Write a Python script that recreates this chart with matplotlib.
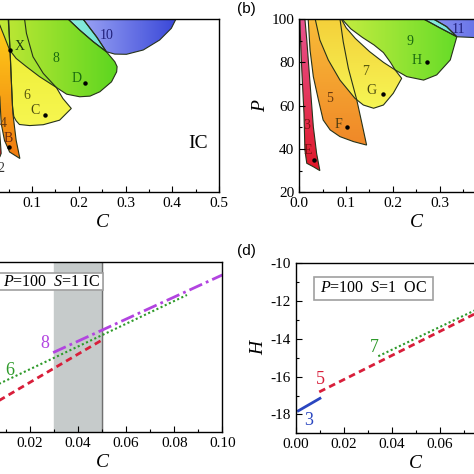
import numpy as np
import matplotlib
matplotlib.use('Agg')
import matplotlib.pyplot as plt
from matplotlib.patches import Polygon, Rectangle
from matplotlib.colors import LinearSegmentedColormap
from matplotlib.ticker import MultipleLocator, FormatStrFormatter

plt.rcParams['font.family'] = 'Liberation Serif'
plt.rcParams['mathtext.fontset'] = 'custom'
plt.rcParams['mathtext.rm'] = 'Liberation Serif'
plt.rcParams['mathtext.it'] = 'Liberation Serif:italic'
plt.rcParams['axes.unicode_minus'] = False

# ---- panel (a): IC stability regions, outline points (C, P)
a2_c = [0.000, 0.012, 0.022, 0.030, 0.034, 0.031, 0.020, 0.008]
a2_p = [100, 100, 75, 50, 38, 36.3, 45, 70]
a4_c = [0.006, 0.012, 0.018, 0.024, 0.031, 0.034, 0.041, 0.052, 0.074, 0.066, 0.059, 0.056, 0.053, 0.049]
a4_p = [100, 90, 80, 72, 64, 51.8, 44, 38.6, 35.6, 44, 56.4, 70.3, 85.7, 100]
a6_c = [0.050, 0.052, 0.054, 0.056, 0.058, 0.061, 0.066, 0.073, 0.095, 0.124, 0.159, 0.184, 0.166, 0.152, 0.124, 0.102, 0.088, 0.084]
a6_p = [100, 90, 80, 70, 60, 55, 53, 51.3, 50.8, 51.2, 53.3, 58.7, 63.3, 68.4, 74.9, 82.6, 93.4, 100]
a8_c = [0.025, 0.031, 0.041, 0.052, 0.066, 0.088, 0.116, 0.152, 0.174, 0.202, 0.224, 0.245, 0.270, 0.281, 0.282, 0.277, 0.259, 0.238, 0.209]
a8_p = [100, 97.2, 91.8, 85.7, 81.8, 78, 73.4, 68.4, 65.3, 64.1, 64.4, 66.4, 71, 75.6, 78, 80.3, 84.9, 91.8, 100]
a10_c = [0.177, 0.202, 0.231, 0.259, 0.277, 0.302, 0.338, 0.373, 0.398, 0.408]
a10_p = [100, 94.9, 89.5, 84.9, 83.8, 83.7, 85.7, 90.3, 95.7, 100]
a_lens_c = [0.177, 0.202, 0.231, 0.259, 0.238, 0.209]
a_lens_p = [100, 94.9, 89.5, 84.9, 91.8, 100]

a_text = ['X', '8', 'D', '10', '6', 'C', '4', 'B', '2']
a_text_c = [0.073, 0.152, 0.195, 0.259, 0.088, 0.106, 0.039, 0.049, 0.034]
a_text_p = [87.5, 81.8, 72.6, 92.6, 64.9, 57.9, 51.8, 44.8, 31.0]
a_text_col = ['#1a3a10', '#1a6a10', '#1a6a10', '#20207a', '#5a5a10', '#4a4a10', '#6a3a10', '#6a2a10', '#333333']
a_dot_c = [0.052, 0.213, 0.127, 0.051]
a_dot_p = [85.7, 70.3, 55.6, 41.0]

# ---- panel (b): OC stability regions
b3_c = [0.001, 0.005, 0.010, 0.012, 0.016, 0.030, 0.044, 0.037, 0.030, 0.023, 0.016, 0.012]
b3_p = [100, 78, 56.5, 39.5, 33.4, 31.8, 30, 38, 50.3, 70.3, 90.3, 100]
b5_c = [0.019, 0.023, 0.030, 0.041, 0.051, 0.066, 0.087, 0.116, 0.144, 0.134, 0.123, 0.105, 0.094, 0.087]
b5_p = [100, 85.7, 73.4, 62.6, 53.4, 48.8, 45.7, 43.4, 41.8, 51.8, 62.6, 77.2, 89.5, 100]
b7_c = [0.034, 0.044, 0.062, 0.087, 0.119, 0.137, 0.159, 0.180, 0.201, 0.219, 0.205, 0.180, 0.150, 0.120, 0.100, 0.090]
b7_p = [100, 90.3, 81.1, 71.8, 63.4, 60.3, 58.8, 60.3, 65.7, 72.6, 76.5, 80, 85, 91, 96, 100]
b9_c = [0.091, 0.110, 0.135, 0.160, 0.180, 0.195, 0.205, 0.230, 0.266, 0.294, 0.323, 0.337, 0.315, 0.287]
b9_p = [100, 95.5, 91.5, 88, 84.5, 80, 76.5, 73.4, 71.8, 74.2, 81.1, 91.8, 96.5, 100]
b11_c = [0.266, 0.300, 0.337, 0.400, 0.450, 0.490, 0.500]
b11_p = [100, 96, 91.8, 91.2, 91.2, 94, 100]
b_lens_c = [0.266, 0.300, 0.337, 0.315, 0.287]
b_lens_p = [100, 96, 91.8, 96.5, 100]

b_text = ['3', 'E', '5', 'F', '7', 'G', '9', 'H', '11']
b_text_c = [0.016, 0.019, 0.064, 0.084, 0.141, 0.155, 0.237, 0.251, 0.341]
b_text_p = [51.0, 39.5, 63.4, 51.5, 75.7, 66.9, 89.5, 81.0, 95.2]
b_text_col = ['#7a1010', '#7a1010', '#6a3a10', '#4a3a10', '#5a5a10', '#4a4a10', '#1a6a10', '#1a6a10', '#20207a']
b_dot_c = [0.031, 0.101, 0.180, 0.273]
b_dot_p = [35.0, 50.0, 65.2, 80.3]

# ---- panel (c): H vs C, P=100 S=1 IC
c_red_c = [0.002, 0.050]
c_red_h = [-17.70, -14.11]
c_green_c = [0.002, 0.0853]
c_green_h = [-16.74, -11.73]
c_purple_c = [0.0296, 0.100]
c_purple_h = [-14.78, -10.67]

# ---- panel (d): H vs C, P=100 S=1 OC
d_blue_c = [0.0011, 0.0101]
d_blue_h = [-17.81, -17.15]
d_red_c = [0.0098, 0.100]
d_red_h = [-16.81, -11.06]
d_green_c = [0.0344, 0.100]
d_green_h = [-14.92, -10.96]

edge = '#26321a'


def petal(ax, cs, ps, c1, c2, horiz, z):
    pts = np.column_stack([cs, ps])
    patch = Polygon(pts, closed=True, fc='none', ec='none')
    ax.add_patch(patch)
    if horiz:
        g = np.linspace(0, 1, 200)[None, :]
    else:
        g = np.linspace(1, 0, 200)[:, None]
    cmap = LinearSegmentedColormap.from_list('g', [c1, c2])
    im = ax.imshow(g, extent=[min(cs), max(cs), min(ps), max(ps)], origin='lower',
                   aspect='auto', cmap=cmap, vmin=0, vmax=1, zorder=z, interpolation='bilinear')
    im.set_clip_path(patch)
    ax.add_patch(Polygon(pts, closed=True, fill=False, ec=edge, lw=0.8, zorder=6))


def style(ax, xmaj, xmin, ymaj, ymin, xfmt, yfmt):
    ax.xaxis.set_major_locator(MultipleLocator(xmaj))
    ax.xaxis.set_minor_locator(MultipleLocator(xmin))
    ax.yaxis.set_major_locator(MultipleLocator(ymaj))
    ax.yaxis.set_minor_locator(MultipleLocator(ymin))
    ax.xaxis.set_major_formatter(FormatStrFormatter(xfmt))
    ax.yaxis.set_major_formatter(FormatStrFormatter(yfmt))
    ax.tick_params(which='major', direction='in', length=4, width=0.8, labelsize=11)
    ax.tick_params(which='minor', direction='in', length=2, width=0.8)
    for sp in ax.spines.values():
        sp.set_linewidth(1.0)
        sp.set_zorder(10)
    ax.xaxis.set_zorder(10)
    ax.yaxis.set_zorder(10)


fig = plt.figure(figsize=(4.74, 4.74), dpi=100)
W = 474.0

# (a)
ax = fig.add_axes([-14.7 / W, 1 - 192.3 / W, 233.7 / W, 173.3 / W])
petal(ax, a2_c, a2_p, '#e8306a', '#e01020', False, 1)
petal(ax, a10_c, a10_p, '#a8b0f8', '#3a48d8', True, 2)
petal(ax, a4_c, a4_p, '#ffd21a', '#f07a10', False, 2)
petal(ax, a6_c, a6_p, '#ecec30', '#f6f650', False, 3)
petal(ax, a8_c, a8_p, '#c4e836', '#5cd620', True, 4)
petal(ax, a_lens_c, a_lens_p, '#8ceee0', '#70e4d4', True, 5)
for t, x, y, col in zip(a_text, a_text_c, a_text_p, a_text_col):
    ax.text(x, y, t, color=col, fontsize=10, ha='center', va='center', zorder=7)
ax.plot(a_dot_c, a_dot_p, 'o', color='black', ms=2.2, zorder=7)
ax.text(0.455, 42.7, 'IC', fontsize=14, ha='center', va='center')
ax.set_xlim(0, 0.5)
ax.set_ylim(20, 100)
style(ax, 0.1, 0.05, 20, 10, '%.1f', '%d')
ax.set_xlabel('C', style='italic', fontsize=14, labelpad=3)

# (b)
ax = fig.add_axes([299.3 / W, 1 - 192.3 / W, 233.7 / W, 173.3 / W])
petal(ax, b3_c, b3_p, '#e85490', '#e01828', False, 1)
petal(ax, b11_c, b11_p, '#9098f0', '#3c4ce0', True, 2)
petal(ax, b5_c, b5_p, '#f8bc38', '#f08828', False, 2)
petal(ax, b7_c, b7_p, '#f4d03a', '#f6f654', False, 3)
petal(ax, b9_c, b9_p, '#c4ec40', '#66dc28', True, 4)
petal(ax, b_lens_c, b_lens_p, '#8ceee0', '#70e4d4', True, 5)
for t, x, y, col in zip(b_text, b_text_c, b_text_p, b_text_col):
    ax.text(x, y, t, color=col, fontsize=10, ha='center', va='center', zorder=7)
ax.plot(b_dot_c, b_dot_p, 'o', color='black', ms=2.2, zorder=7)
ax.set_xlim(0, 0.5)
ax.set_ylim(20, 100)
style(ax, 0.1, 0.05, 20, 10, '%.1f', '%d')
ax.set_xlabel('C', style='italic', fontsize=14, labelpad=3)
ax.set_ylabel('P', style='italic', fontsize=14, labelpad=2)

# (c)
ax = fig.add_axes([-18 / W, 1 - 432.3 / W, 240.3 / W, 170 / W])
ax.axvspan(0.03, 0.05, color='#c6cbcb', zorder=0)
ax.axvline(0.05, color='#707070', lw=1, zorder=0.5)
ax.plot(c_red_c, c_red_h, color='#d81e3a', lw=2, ls=(0, (2.4, 1.6)))
ax.plot(c_green_c, c_green_h, color='#2e9a2a', lw=1.5, ls=(0, (1, 1.2)))
ax.plot(c_purple_c, c_purple_h, color='#b244e0', lw=2, ls=(0, (5, 1.5, 1, 1.5)))
ax.text(0.026, -14.29, '8', color='#b244e0', fontsize=13, ha='center', va='center')
ax.text(0.0117, -15.75, '6', color='#2e9a2a', fontsize=13, ha='center', va='center')
ax.add_patch(Rectangle((-0.02, -11.47), 0.0705, 0.89, fc='white', ec='#a0a0a0', lw=1.2, zorder=8))
ax.text(0.0492, -11.03, '$P$=100  $S$=1 IC', fontsize=11.5, ha='right', va='center', zorder=9)
ax.set_xlim(0, 0.1)
ax.set_ylim(-19, -10)
style(ax, 0.02, 0.01, 2, 1, '%.2f', '%d')
ax.set_xlabel('C', style='italic', fontsize=14, labelpad=3)

# (d)
ax = fig.add_axes([295.7 / W, 1 - 433.3 / W, 240 / W, 170 / W])
ax.plot(d_blue_c, d_blue_h, color='#2a46c0', lw=2)
ax.plot(d_red_c, d_red_h, color='#d81e3a', lw=2, ls=(0, (2.4, 1.6)))
ax.plot(d_green_c, d_green_h, color='#2e9a2a', lw=1.5, ls=(0, (1, 1.2)))
ax.text(0.0052, -18.32, '3', color='#2a46c0', fontsize=13, ha='center', va='center')
ax.text(0.0101, -16.13, '5', color='#d81e3a', fontsize=13, ha='center', va='center')
ax.text(0.0329, -14.47, '7', color='#2e9a2a', fontsize=13, ha='center', va='center')
ax.add_patch(Rectangle((0.0076, -11.93), 0.0496, 1.19, fc='white', ec='#a0a0a0', lw=1.2, zorder=8))
ax.text(0.0324, -11.33, '$P$=100  $S$=1  OC', fontsize=11.5, ha='center', va='center', zorder=9)
ax.set_xlim(0, 0.1)
ax.set_ylim(-19, -10)
style(ax, 0.02, 0.01, 2, 1, '%.2f', '%d')
ax.set_xlabel('C', style='italic', fontsize=14, labelpad=3)
ax.set_ylabel('H', style='italic', fontsize=14, labelpad=2)

fig.text(237 / W, 1 - 9 / W, '(b)', family='Liberation Sans', fontsize=11, va='center', ha='left')
fig.text(237 / W, 1 - 251 / W, '(d)', family='Liberation Sans', fontsize=11, va='center', ha='left')

fig.savefig('out.png', dpi=100)
